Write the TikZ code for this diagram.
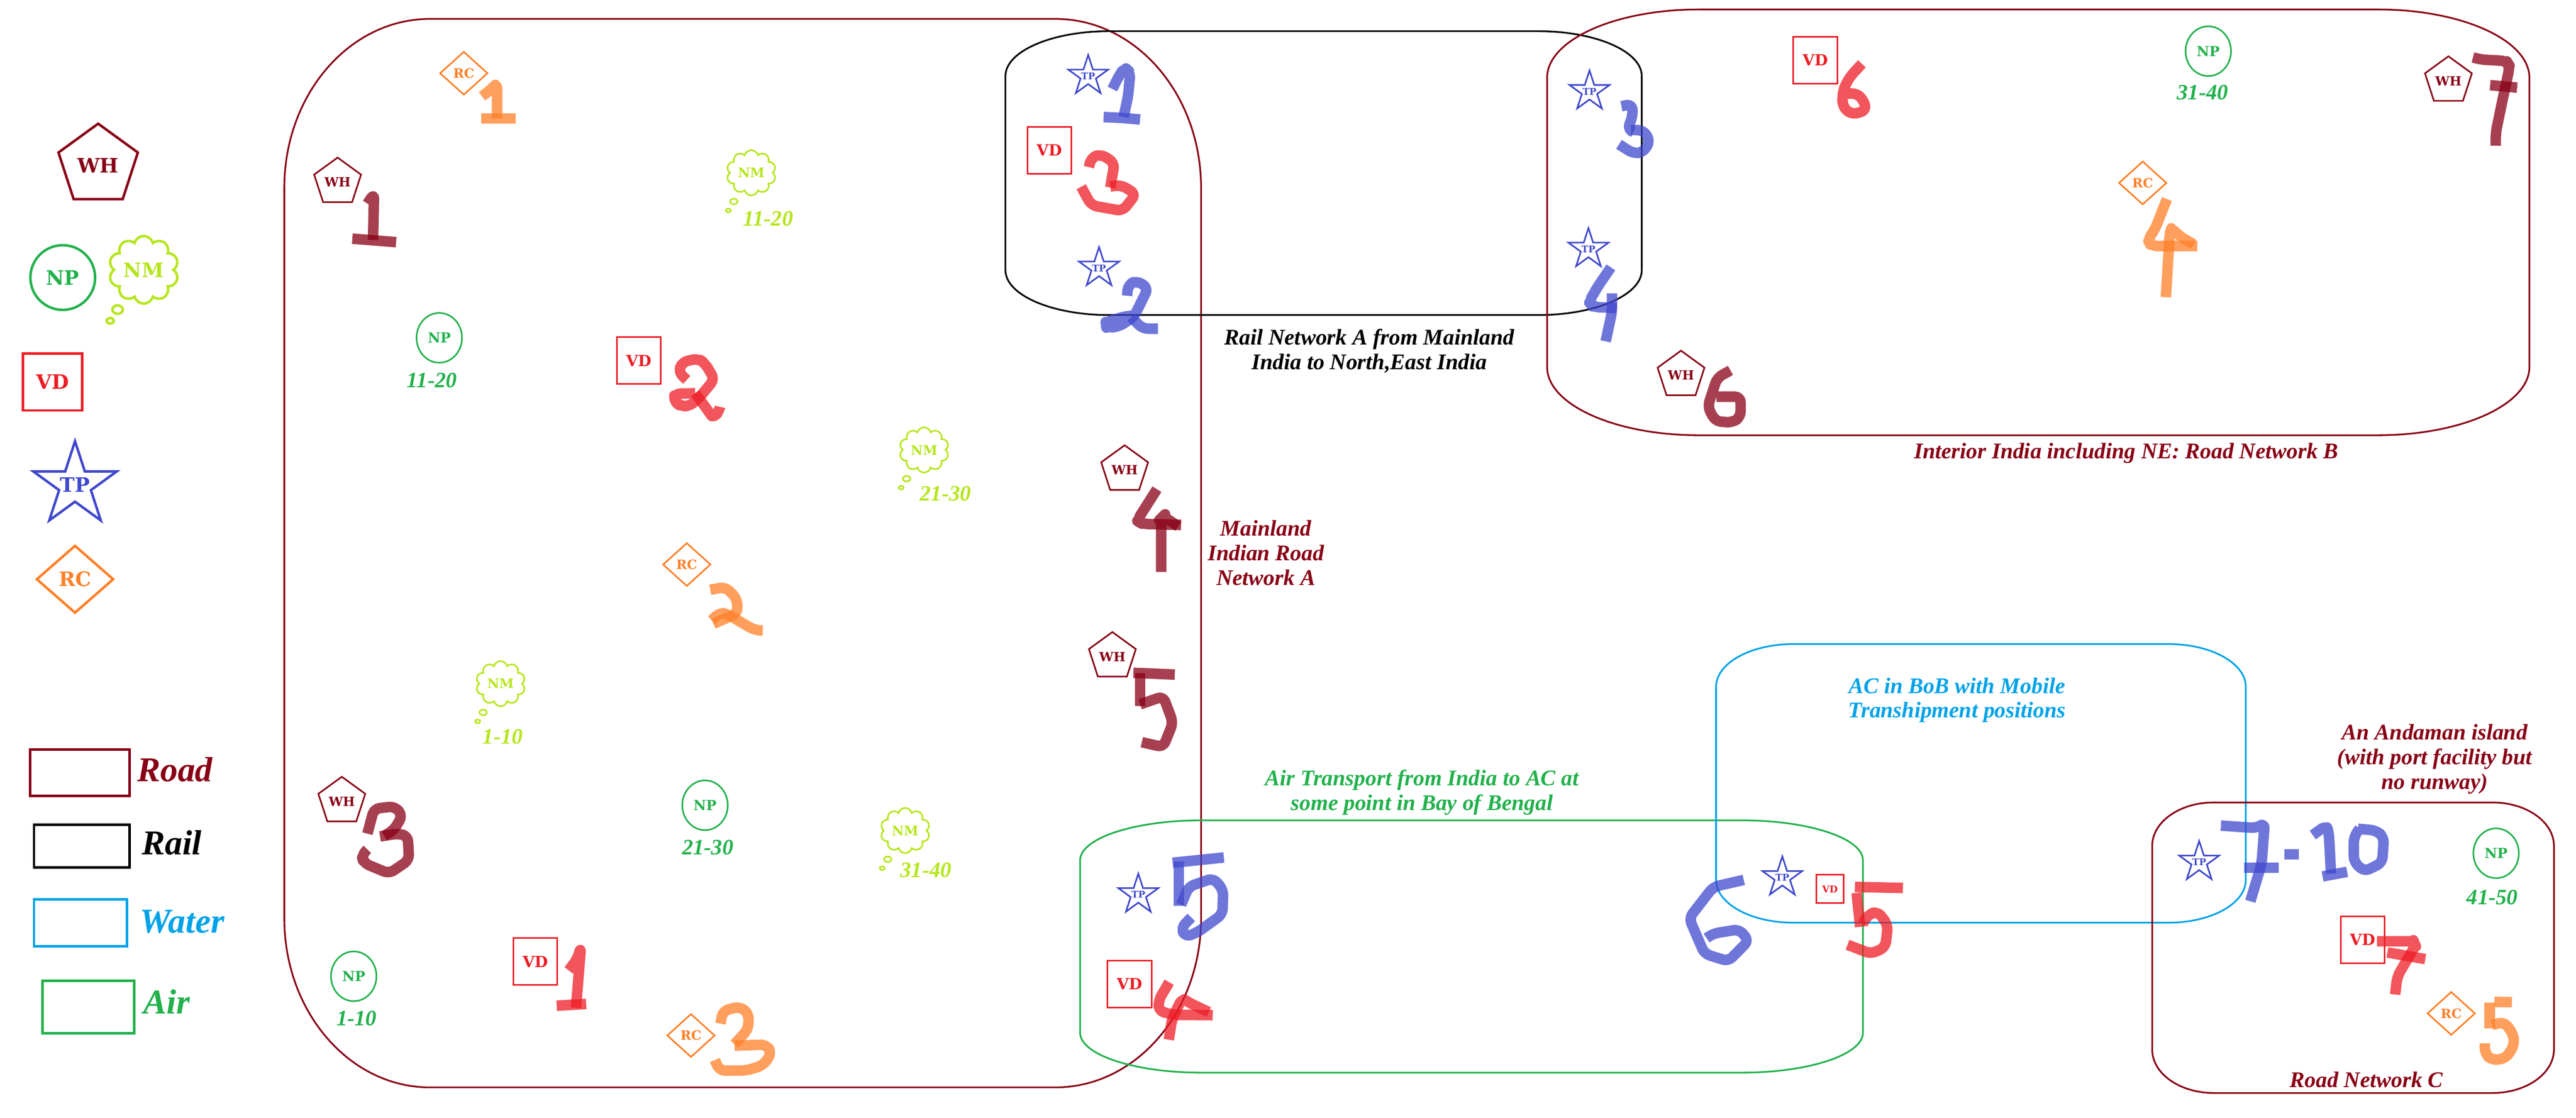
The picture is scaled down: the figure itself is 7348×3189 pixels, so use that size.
\documentclass[tikz,border=0pt]{standalone}
\usepackage{fontspec}
\setmainfont{Liberation Serif}
\newfontfamily\slabfont{DejaVu Serif}
\usetikzlibrary{shapes.geometric,shapes.callouts,shapes.symbols}
\definecolor{roadred}{HTML}{880015}
\definecolor{npgreen}{HTML}{22B14C}
\definecolor{nmlime}{HTML}{B5E61D}
\definecolor{vdred}{HTML}{ED1C24}
\definecolor{tpblue}{HTML}{3F48CC}
\definecolor{rcorange}{HTML}{FF7F27}
\definecolor{waterblue}{HTML}{00A2E8}
%%closed loop with elliptic corners: style,x1,y1,x2,y2,rx,ry
\newcommand{\netloop}[7]{\draw[#1] (#2,{#3+#7}) arc[start angle=180,end angle=270,x radius=#6,y radius=#7] -- ({#4-#6},#3) arc[start angle=270,end angle=360,x radius=#6,y radius=#7] -- (#4,{#5-#7}) arc[start angle=0,end angle=90,x radius=#6,y radius=#7] -- ({#2+#6},#5) arc[start angle=90,end angle=180,x radius=#6,y radius=#7] -- cycle;}
%%text that takes no room in its shape
\newcommand{\flatlab}[1]{\smash{\makebox[0pt]{\raisebox{-0.36em}{#1}}}}
\begin{document}
\begin{tikzpicture}[x=0.005444cm,y=-0.005444cm,{net/.style={line width=0.75pt}},{pen/.style={line width=4.65pt,opacity=0.75,line join=round,rounded corners=2.5pt}},{symfont/.style={font=\slabfont\bfseries\fontsize{#1}{#1}\selectfont}},{sym/.style={inner sep=0pt,line width=0.7pt}},{whbox/.style={sym,draw=roadred,text=roadred,regular polygon,regular polygon sides=5,minimum size=21.8pt,symfont=5.6}},{npbox/.style={sym,draw=npgreen,text=npgreen,ellipse,minimum width=20.1pt,minimum height=22pt,symfont=6.1}},{nmbox/.style={sym,draw=nmlime,text=nmlime,cloud callout,cloud puffs=10,aspect=1,minimum width=21.8pt,minimum height=20pt,callout relative pointer={(-0.17cm,-0.28cm)},callout pointer segments=2,symfont=5.8}},{vdbox/.style={sym,draw=vdred,text=vdred,rectangle,minimum width=19.4pt,minimum height=20.8pt,symfont=6.8}},{tpbox/.style={sym,draw=tpblue,text=tpblue,star,star points=5,star point ratio=2.618,minimum size=18.6pt,symfont=4.1}},{rcbox/.style={sym,draw=rcorange,text=rcorange,diamond,aspect=1.1,minimum width=21.2pt,minimum height=19.2pt,symfont=5.7}},{lab/.style={font=\fontsize{9.9}{10.9}\selectfont\bfseries\itshape,align=center,inner sep=0pt}},{rng/.style={font=\fontsize{9.7}{11}\selectfont\bfseries\itshape,inner sep=0pt,anchor=base}},{legbox/.style={line width=1.1pt}},{leglab/.style={font=\fontsize{15.4}{18}\selectfont\bfseries\itshape,inner sep=0pt,anchor=base west}}]
	\useasboundingbox (0,0) rectangle (7348,3189);
	%%networks
	\netloop{net,draw=roadred}{811}{54}{3426}{3103}{415}{482}
	\netloop{net,draw=black}{2868}{89}{4683}{899}{295}{128}
	\netloop{net,draw=roadred}{4413}{27}{7215}{1242}{432}{195}
	\netloop{net,draw=npgreen}{3081}{2341}{5314}{3061}{346}{114}
	\netloop{net,draw=waterblue}{4895}{1838}{6406}{2633}{220}{122}
	\netloop{net,draw=roadred}{6139}{2290}{7285}{3119}{175}{124}
	%%symbols
	\foreach \nm/\x/\y in {wha/963/520,whc/975/2287,whd/3208/1341,whe/3173/1874,whf/4795/1071,whg/6984/231}
		\node[whbox] (\nm) at (\x,\y) {\raisebox{-1.4pt}{WH}};
	\foreach \nm/\x/\y in {npa/1009/2786,npb/1253/964,npc/2011/2298,npd/6299/146,npe/7120/2435}
		\node[npbox] (\nm) at (\x,\y) {NP};
	\foreach \nm/\x/\y in {nma/1428/1951,nmb/2143/493,nmc/2636/1284,nmd/2582/2370}
		\node[nmbox] (\nm) at (\x,\y) {NM};
	\foreach \nm/\x/\y in {vda/1527/2744,vdb/1822/1029,vdc/2993/429,vdd/3222/2808,vdf/5178/172,vdg/6739/2682}
		\node[vdbox] (\nm) at (\x,\y) {VD};
	\node[vdbox,minimum width=11.9pt,minimum height=12.5pt,symfont=4.2] (vde) at (5220,2537) {VD};
	\foreach \nm/\x/\y in {tpa/3104/217,tpb/3135/765,tpc/4534/261,tpd/4531/711,tpe/3247/2553,tpf/5084/2504,tpg/6273/2460}
		\node[tpbox] (\nm) at (\x,\y) {\flatlab{TP}};
	\foreach \nm/\x/\y in {rca/1323/209,rcb/1959/1611,rcc/1971/2955,rcd/6112/522,rce/6992/2892}
		\node[rcbox] (\nm) at (\x,\y) {RC};
	%%ranges under the symbols
	\foreach \nm/\x/\y/\t in {a/1017/2926/1-10,b/1232/1106/11-20,c/2019/2439/21-30,d/6283/284/31-40,e/7109/2581/41-50}
		\node[rng,text=npgreen] (rngnp\nm) at (\x,\y) {\t};
	\foreach \nm/\x/\y/\t in {a/1434/2123/1-10,b/2191/645/11-20,c/2697/1429/21-30,d/2641/2503/31-40}
		\node[rng,text=nmlime] (rngnm\nm) at (\x,\y) {\t};
	%%handwritten numbers, road
	\draw[pen,roadred] (1048,581) -- (1067,552) -- (1064,685);
	\draw[pen,roadred] (1005,681) -- (1130,691);
	\draw[pen,roadred] (1048,2379) -- (1067,2308) -- (1126,2301) -- (1148,2327) -- (1124,2368) -- (1096,2385);
	\draw[pen,roadred] (1084,2387) -- (1134,2379) -- (1163,2385) -- (1167,2454) -- (1110,2493) -- (1038,2463) -- (1031,2441) -- (1048,2424);
	\draw[pen,roadred] (3300,1396) -- (3243,1486) -- (3258,1495) -- (3369,1498);
	\draw[pen,roadred] (3361,1502) -- (3318,1473) -- (3312,1479) -- (3312,1632);
	\draw[pen,roadred] (3233,1920) -- (3351,1925);
	\draw[pen,roadred] (3252,1920) -- (3252,2015);
	\draw[pen,roadred] (3252,2010) -- (3318,1987) -- (3346,2062) -- (3318,2132) -- (3257,2118);
	\draw[pen,roadred] (4936,1057) -- (4898,1078) -- (4871,1161) -- (4893,1202) -- (4941,1206) -- (4965,1190) -- (4965,1132) -- (4896,1132);
	\draw[pen,roadred] (7054,164) -- (7077,170) -- (7150,174) -- (7159,189) -- (7135,301) -- (7119,379) -- (7119,416);
	\draw[pen,roadred] (7103,243) -- (7180,250);
	%%handwritten numbers, van
	\draw[pen,vdred] (1622,2769) -- (1646,2738) -- (1657,2702) -- (1643,2876);
	\draw[pen,vdred] (1588,2870) -- (1672,2865);
	\draw[pen,vdred] (1959,1084) -- (1935,1062) -- (1946,1033) -- (1992,1023) -- (2011,1037) -- (2038,1082) -- (1997,1132) -- (1968,1159) -- (1940,1159) -- (1925,1145) -- (1923,1124) -- (1983,1122);
	\draw[pen,vdred] (1983,1122) -- (2021,1174) -- (2032,1190) -- (2050,1178) -- (2054,1161);
	\draw[pen,vdred] (3106,477) -- (3113,449) -- (3141,440) -- (3179,465) -- (3167,535);
	\draw[pen,vdred] (3167,532) -- (3199,528) -- (3240,554) -- (3202,602) -- (3113,586) -- (3084,533);
	\draw[pen,vdred] (3335,2803) -- (3305,2854) -- (3305,2885) -- (3348,2896) -- (3459,2897);
	\draw[pen,vdred] (3448,2888) -- (3391,2861) -- (3372,2848) -- (3343,2909) -- (3334,2967);
	\draw[pen,vdred] (5291,2531) -- (5428,2534);
	\draw[pen,vdred] (5296,2548) -- (5306,2645);
	\draw[pen,vdred] (5313,2636) -- (5330,2609) -- (5356,2601) -- (5385,2639) -- (5378,2703) -- (5337,2722) -- (5270,2696);
	\draw[pen,vdred] (5311,182) -- (5276,220) -- (5257,257) -- (5255,303) -- (5281,327) -- (5324,315) -- (5314,282) -- (5290,264) -- (5247,272);
	\draw[pen,vdred] (6780,2686) -- (6885,2686) -- (6890,2698) -- (6860,2749) -- (6838,2787) -- (6832,2838);
	\draw[pen,vdred] (6810,2718) -- (6918,2737);
	%%handwritten numbers, rail and port
	\draw[pen,tpblue] (3173,254) -- (3192,216) -- (3208,192) -- (3224,206) -- (3218,273) -- (3205,334);
	\draw[pen,tpblue] (3148,334) -- (3195,336) -- (3252,341);
	\draw[pen,tpblue] (3215,844) -- (3218,812) -- (3243,801) -- (3275,822) -- (3234,905) -- (3189,933) -- (3156,935) -- (3154,919) -- (3208,903) -- (3227,901);
	\draw[pen,tpblue] (3227,905) -- (3259,938) -- (3303,938);
	\draw[pen,tpblue] (4625,303) -- (4656,297) -- (4657,332) -- (4642,369) -- (4659,377);
	\draw[pen,tpblue] (4652,371) -- (4687,371) -- (4707,402) -- (4687,435) -- (4659,438) -- (4618,412);
	\draw[pen,tpblue] (4595,763) -- (4558,817) -- (4532,862) -- (4544,876) -- (4611,879);
	\draw[pen,tpblue] (4598,837) -- (4598,891) -- (4580,974);
	\draw[pen,tpblue] (3345,2462) -- (3491,2447);
	\draw[pen,tpblue] (3362,2458) -- (3362,2585);
	\draw[pen,tpblue] (3369,2582) -- (3391,2530) -- (3461,2506) -- (3489,2539) -- (3487,2609) -- (3415,2661) -- (3381,2674) -- (3369,2648) -- (3398,2618);
	\draw[pen,tpblue] (4974,2511) -- (4887,2531) -- (4818,2620) -- (4862,2722) -- (4930,2743) -- (4988,2684) -- (4961,2652) -- (4887,2664) -- (4868,2677);
	\draw[pen,tpblue] (6335,2356) -- (6438,2363) -- (6460,2348) -- (6451,2465) -- (6419,2572);
	\draw[pen,tpblue] (6402,2476) -- (6500,2476);
	\draw[pen,tpblue] (6516,2438) -- (6557,2438);
	\draw[pen,tpblue] (6597,2383) -- (6636,2355) -- (6643,2377) -- (6649,2493);
	\draw[pen,tpblue] (6625,2501) -- (6695,2488);
	\draw[pen,tpblue] (6731,2364) -- (6714,2389) -- (6714,2459) -- (6744,2487) -- (6795,2462) -- (6800,2389) -- (6778,2370) -- (6726,2365);
	%%handwritten numbers, retail
	\draw[pen,rcorange] (1375,275) -- (1402,254) -- (1418,237) -- (1418,338);
	\draw[pen,rcorange] (1373,338) -- (1471,338);
	\draw[pen,rcorange] (2026,1683) -- (2069,1675) -- (2102,1708) -- (2104,1750) -- (2035,1780);
	\draw[pen,rcorange] (2030,1770) -- (2054,1747) -- (2078,1754) -- (2126,1783) -- (2155,1799) -- (2176,1799);
	\draw[pen,rcorange] (2055,2921) -- (2062,2885) -- (2110,2872) -- (2136,2893) -- (2134,2937) -- (2095,2980);
	\draw[pen,rcorange] (2095,2984) -- (2186,2981) -- (2201,3005) -- (2177,3040) -- (2129,3055) -- (2052,3055) -- (2039,3025);
	\draw[pen,rcorange] (6181,568) -- (6147,654) -- (6126,684) -- (6136,702) -- (6268,702);
	\draw[pen,rcorange] (6257,697) -- (6220,676) -- (6194,650) -- (6189,667) -- (6178,848);
	\draw[pen,rcorange] (7115,2859) -- (7165,2860);
	\draw[pen,rcorange] (7102,2861) -- (7102,2935);
	\draw[pen,rcorange] (7109,2925) -- (7143,2916) -- (7169,2951) -- (7172,2982) -- (7148,3020) -- (7109,3026) -- (7088,3007) -- (7088,2977);
	%%network labels
	\node[lab,text=black] (railtxt) at (3906,1001) {Rail Network A from Mainland\\India to North,East India};
	\node[lab,text=roadred] (maintxt) at (3611,1578) {Mainland\\Indian Road\\Network A};
	\node[lab,text=roadred,anchor=base] (interiortxt) at (6065,1309) {Interior India including NE: Road Network B};
	\node[lab,text=waterblue] (bobtxt) at (5582,1998) {AC in BoB with Mobile\\Transhipment positions};
	\node[lab,text=npgreen] (airtxt) at (4056,2261) {Air Transport from India to AC at\\some point in Bay of Bengal};
	\node[lab,text=roadred] (andamantxt) at (6945,2166) {An Andaman island\\(with port facility but\\no runway)};
	\node[lab,text=roadred,anchor=base] (roadctxt) at (6750,3103) {Road Network C};
	%%legend
	\node[whbox,line width=1.1pt,minimum size=36.9pt,symfont=8.8] (legwh) at (280,472) {WH};
	\node[npbox,line width=1.1pt,minimum width=28.6pt,minimum height=28.6pt,symfont=8.8] (legnp) at (179,792) {NP};
	\node[nmbox,line width=1.1pt,minimum width=30.8pt,minimum height=24pt,callout relative pointer={(-0.23cm,-0.35cm)},symfont=8.8] (legnm) at (410,770) {NM};
	\node[vdbox,line width=1.1pt,minimum width=26.2pt,minimum height=25.2pt,symfont=8.8] (legvd) at (150,1090) {VD};
	\node[tpbox,line width=1.1pt,minimum size=38.7pt,symfont=8.8] (legtp) at (214,1384) {\flatlab{TP}};
	\node[rcbox,line width=1.1pt,minimum width=34.2pt,minimum height=30pt,symfont=8.8] (legrc) at (214,1653) {RC};
	\draw[legbox,roadred] (86,2139) rectangle (370,2271);
	\draw[legbox,black] (97,2354) rectangle (370,2476);
	\draw[legbox,waterblue] (97,2567) rectangle (362,2700);
	\draw[legbox,npgreen] (121,2799) rectangle (383,2949);
	\node[leglab,text=roadred] (legroad) at (390,2230) {Road};
	\node[leglab,text=black] (legrail) at (403,2439) {Rail};
	\node[leglab,text=waterblue] (legwater) at (398,2662) {Water};
	\node[leglab,text=npgreen] (legair) at (408,2893) {Air};
\end{tikzpicture}
\end{document}
